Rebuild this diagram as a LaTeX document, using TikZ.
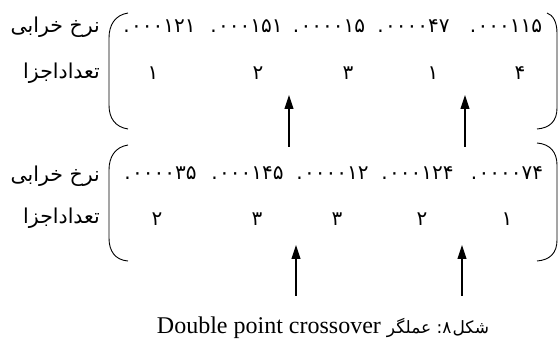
\documentclass[tikz,border=0pt]{standalone}
\usepackage{fontspec}
\setmainfont{Liberation Serif}
\newfontfamily\arfont[Script=Arabic]{DejaVu Sans}
\TeXXeTstate=1
\usetikzlibrary{arrows.meta}
\newcommand{\pn}[1]{.\kern1.5pt#1}
\begin{document}
\begin{tikzpicture}[x=1pt,y=-1pt,
  num/.style={inner sep=0pt,font=\arfont\fontsize{20}{22}\selectfont},
  lbl/.style={inner sep=0pt,anchor=east,font=\arfont\fontsize{20.5}{23}\selectfont},
  brk/.style={line width=0.9pt},
  arr/.style={line width=1.1pt,-{Triangle[width=9pt,length=14pt]}}]
\useasboundingbox (0,0) rectangle (560,347);
% ---- row 1 ----
\node[lbl] (r1) at (100,27) {\beginR نرخ خرابی\endR};
\node[lbl] (c1) at (100,73) {\beginR تعداداجزا\endR};
\node[num] (a1) at (159.5,26) {\pn{۰۰۰۱۲۱}};
\node[num] (a2) at (246.5,26) {\pn{۰۰۰۱۵۱}};
\node[num] (a3) at (329,26) {\pn{۰۰۰۰۱۵}};
\node[num] (a4) at (413.5,26) {\pn{۰۰۰۰۴۷}};
\node[num] (a5) at (506,26) {\pn{۰۰۰۱۱۵}};
\node[num] (b1) at (153,73) {۱};
\node[num] (b2) at (258,73) {۲};
\node[num] (b3) at (348,73) {۳};
\node[num] (b4) at (433,73) {۱};
\node[num] (b5) at (520,73) {۴};
\draw[brk] (128,13) .. controls (115,15) and (109,25) .. (109,38) -- (109,105) .. controls (109,118) and (115,127) .. (128,129);
\draw[brk] (547,13) .. controls (553,15) and (557,22) .. (557,33) -- (557,108) .. controls (557,121) and (550,128) .. (537,129);
% ---- row 2 ----
\node[lbl] (r2) at (100,176) {\beginR نرخ خرابی\endR};
\node[lbl] (c2) at (100,218) {\beginR تعداداجزا\endR};
\node[num] (d1) at (160.5,173) {\pn{۰۰۰۰۳۵}};
\node[num] (d2) at (247.5,173) {\pn{۰۰۰۱۴۵}};
\node[num] (d3) at (332.5,173) {\pn{۰۰۰۰۱۲}};
\node[num] (d4) at (417.5,173) {\pn{۰۰۰۱۲۴}};
\node[num] (d5) at (507,173) {\pn{۰۰۰۰۷۴}};
\node[num] (e1) at (157,219) {۲};
\node[num] (e2) at (257,219) {۳};
\node[num] (e3) at (337,219) {۳};
\node[num] (e4) at (422,219) {۲};
\node[num] (e5) at (507,219) {۱};
\draw[brk] (128,145) .. controls (115,147) and (109,157) .. (109,170) -- (109,238) .. controls (109,251) and (115,260) .. (128,261);
\draw[brk] (537,143) .. controls (550,144) and (557,152) .. (557,165) -- (557,240) .. controls (557,253) and (550,260) .. (537,261);
% ---- arrows ----
\coordinate (p1) at (289,147); \coordinate (q1) at (289,95);
\coordinate (p2) at (465,147); \coordinate (q2) at (465,95);
\coordinate (p3) at (296,296); \coordinate (q3) at (296,245);
\coordinate (p4) at (462,296); \coordinate (q4) at (462,245);
\draw[arr] (p1) -- (q1);
\draw[arr] (p2) -- (q2);
\draw[arr] (p3) -- (q3);
\draw[arr] (p4) -- (q4);
% ---- caption ----
\node[inner sep=0pt,font=\fontsize{24}{28}\selectfont] (cap) at (323,328) {Double point crossover {\arfont\fontsize{17}{20}\selectfont\beginR عملگر\endR\ :\kern0pt۸\kern1pt\beginR شکل\endR}};
\end{tikzpicture}
\end{document}
